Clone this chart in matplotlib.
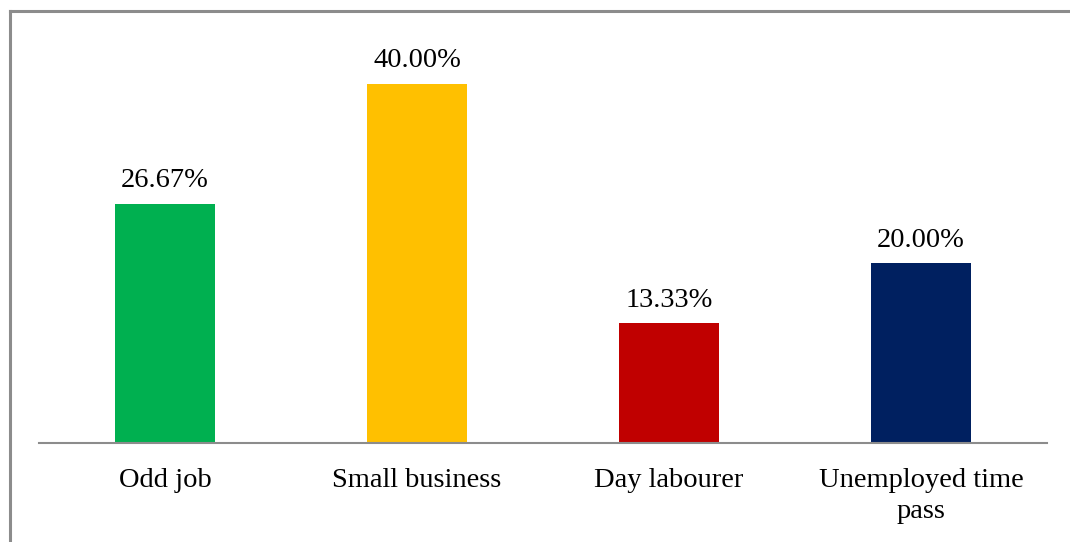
import matplotlib
matplotlib.use("Agg")
import matplotlib.pyplot as plt
from matplotlib.lines import Line2D

categories = ["Odd job", "Small business", "Day labourer", "Unemployed time\npass"]
shares = [26.67, 40.00, 13.33, 20.00]
bar_colors = ["#00B050", "#FFC000", "#C00000", "#002060"]

plt.rcParams["font.family"] = ["Liberation Serif", "DejaVu Serif"]

W, H = 1070, 542
fig = plt.figure(figsize=(W / 100, H / 100), dpi=100)
ax = fig.add_axes([39 / W, (H - 443) / H, 1008 / W, 404 / H])

x = range(len(categories))
bars = ax.bar(x, shares, width=0.4, color=bar_colors, zorder=2)

for rect, v in zip(bars, shares):
    ax.annotate(f"{v:.2f}%", (rect.get_x() + rect.get_width() / 2, v),
                xytext=(0, 12), textcoords="offset points",
                ha="center", va="baseline", fontsize=20.5, color="black")

ax.set_xlim(-0.5, len(categories) - 0.5)
ax.set_ylim(0, 45)
ax.set_xticks(list(x))
ax.set_xticklabels(categories, fontsize=20.5, linespacing=1.32)
ax.tick_params(axis="x", length=0, pad=18)
ax.set_yticks([])
for side in ("left", "right", "top"):
    ax.spines[side].set_visible(False)
ax.spines["bottom"].set_color("#8c8c8c")
ax.spines["bottom"].set_linewidth(1.5)

# outer frame of the chart area
frame_kw = dict(color="#8c8c8c", linewidth=2.2, transform=fig.transFigure)
fig.add_artist(Line2D([9.5 / W, 9.5 / W], [0, 1 - 10.5 / H], **frame_kw))
fig.add_artist(Line2D([9.5 / W, 1], [1 - 10.5 / H, 1 - 10.5 / H], **frame_kw))

fig.savefig("out.png", dpi=100)
